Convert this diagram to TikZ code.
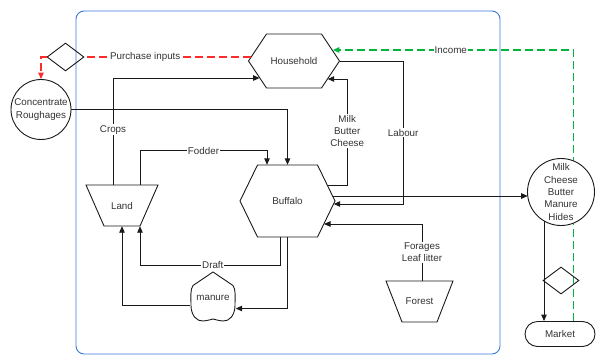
\documentclass[tikz,border=0pt]{standalone}
\usepackage{fontspec}
\setmainfont{Liberation Sans}
\usetikzlibrary{arrows.meta,calc,shapes.geometric,backgrounds}
\definecolor{framec}{HTML}{3C78D8}
\definecolor{redc}{HTML}{FF2A2A}
\definecolor{greenc}{HTML}{00B43C}
\definecolor{linec}{HTML}{1A1A1A}
\definecolor{textc}{HTML}{333333}
\begin{document}
\begin{tikzpicture}[x=1pt,y=-1pt,
  font=\fontsize{9.8}{12.4}\selectfont,
  every node/.style={text=textc},
  blank/.style={inner sep=0pt, align=center},
  outline/.style={draw=linec, line width=0.9pt},
  plain/.style={draw=linec, line width=0.9pt},
  flow/.style={draw=linec, line width=0.9pt, -{Triangle[length=6.5pt,width=5.5pt]}},
  purch/.style={draw=redc, line width=1.1pt, dash pattern=on 8pt off 4pt},
  income/.style={draw=greenc, line width=1.3pt, dash pattern=on 8pt off 4pt},
  lab/.style={fill=white, inner sep=1pt, align=center},
  dia/.style={diamond, draw=linec, line width=0.9pt, inner sep=0pt, minimum width=37pt, minimum height=28pt},
  roundnode/.style={circle, draw=linec, line width=0.9pt, fill=white, inner sep=0pt, align=center}
]
\useasboundingbox (0,0) rectangle (596,356);

% farm boundary
\draw[framec, line width=0.9pt, rounded corners=8pt] (76,11) rectangle (500,354);

% nodes (text holders)
\node[blank, minimum width=91pt, minimum height=54pt] (H) at (294,61) {Household};
\node[blank, minimum width=95pt, minimum height=72pt] (B) at (287.5,201) {Buffalo};
\node[blank, minimum width=72pt, minimum height=41pt] (Land) at (122,205.5) {Land};
\node[blank, minimum width=67pt, minimum height=41pt] (F) at (419.5,301.5) {Forest};
\node[blank, minimum width=45pt, minimum height=51pt] (M) at (213,297.5) {manure};
\node[roundnode, minimum size=60pt] (Conc) at (41,109.5) {Concentrate\\Roughages};
\node[roundnode, minimum size=67pt] (Milk) at (561,192) {Milk\\Cheese\\Butter\\Manure\\Hides};
\node[draw=linec, line width=0.9pt, rounded corners=12.5pt, minimum width=70pt, minimum height=25pt, inner sep=0pt] (Market) at (560,334) {Market};
\node[dia] (DL) at (65.5,57) {};
\node[dia, minimum width=36pt, minimum height=27pt] (DR) at (561,280.5) {};

% outlines
\draw[outline, shift={(H.center)}] (-45.5,0) -- (-27.5,-27) -- (27.5,-27) -- (45.5,0) -- (27.5,27) -- (-27.5,27) -- cycle;
\draw[outline, shift={(B.center)}] (-47.5,0) -- (-30,-36) -- (30,-36) -- (47.5,0) -- (30,36) -- (-30,36) -- cycle;
\draw[outline, shift={(Land.center)}] (-36,-20.5) -- (36,-20.5) -- (18,20.5) -- (-18,20.5) -- cycle;
\draw[outline, shift={(F.center)}] (-33.5,-20.5) -- (33.5,-20.5) -- (17.5,20.5) -- (-17.5,20.5) -- cycle;
\draw[outline, shift={(M.center)}] (0,-25.5) -- (20,-12)
  .. controls (23,-8) and (22,0) .. (22,8)
  .. controls (22,18) and (16,24) .. (10,23.5)
  .. controls (5,23) and (2,22) .. (0,21.5)
  .. controls (-2,22) and (-5,23) .. (-10,23.5)
  .. controls (-16,24) and (-22,18) .. (-22,8)
  .. controls (-22,0) and (-23,-8) .. (-20,-12) -- cycle;

% purchase inputs (red)
\draw[purch] ($(H.west)+(2.6,-4)$) -- node[lab, pos=0.635]{Purchase inputs} (DL.east);
\draw[purch, -{Triangle[length=6.5pt,width=5.5pt]}] (DL.west) -| (Conc.north);

% income (green), behind the product circle
\begin{pgfonlayer}{background}
\draw[income, -{Triangle[length=6.5pt,width=5.5pt]}] ($(Market.north)+(13.5,0)$) |- node[lab, pos=0.755]{Income} ($(H.east)+(-6.8,-11)$);
\end{pgfonlayer}

% flows
\draw[flow] ($(Land.north)+(-9,0)$) |- node[lab, pos=0.257]{Crops} ($(H.west)+(11.3,17)$);
\draw[flow] ($(Land.north)+(18,0)$) -- ++(0,-34) -| node[lab, pos=0.25]{Fodder} ($(B.north)+(-20.5,0)$);
\draw[flow] (Conc.east) -| (B.north);
\draw[flow] ($(B.east)+(-7.8,-16)$) -- ++(19.8,0) |- node[lab, pos=0.255]{Milk\\Butter\\Cheese} ($(H.east)+(-12,18)$);
\draw[flow] (H.east) -- ++(63.5,0) |- node[lab, pos=0.25]{Labour} ($(B.east)+(-1.5,3)$);
\draw[flow] ($(B.east)+(-2.4,-5)$) -- ($(Milk.center)+(-33.3,4)$);
\draw[flow] ($(F.north)+(2.5,0)$) |- node[lab, pos=0.25]{Forages\\Leaf litter} ($(B.east)+(-11.2,23)$);
\draw[flow] ($(B.south)+(-7.5,0)$) -- ++(0,28) -| node[lab, pos=0.24]{Draft} ($(Land.south)+(18,0)$);
\draw[flow] (B.south) |- ($(M.east)+(0,11)$);
\draw[flow] ($(M.west)+(0,7.5)$) -| (Land.south);
\draw[flow] ($(Milk.center)+(-17,28.9)$) -- ($(Market.north)+(-16,0)$);
\end{tikzpicture}
\end{document}
